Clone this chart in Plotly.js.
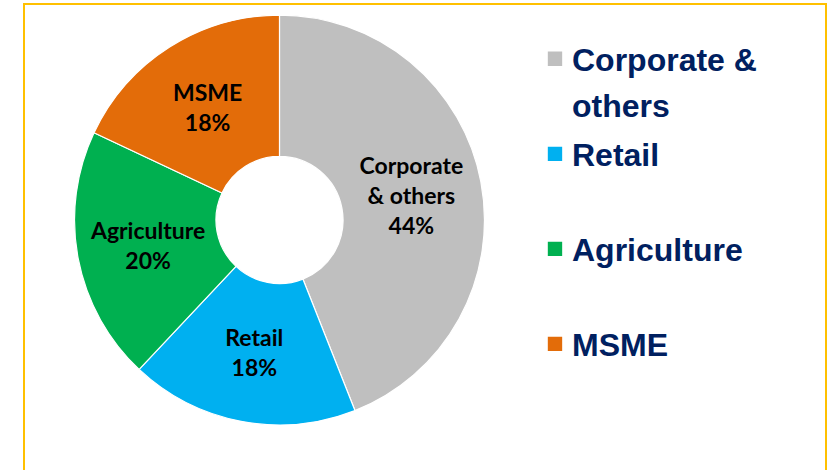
<!DOCTYPE html>
<html>
<head>
<meta charset="utf-8">
<script src="https://cdn.plot.ly/plotly-3.0.1.min.js"></script>
<style>
  html, body { margin: 0; padding: 0; background: #ffffff; }
  #chart { width: 828px; height: 470px; }
</style>
</head>
<body>
<div id="chart"></div>
<script>
// ---- data ----
var categories = ['Corporate & others', 'Retail', 'Agriculture', 'MSME'];
var shares = [44, 18, 20, 18];
var sliceLabels = ['Corporate<br>& others', 'Retail', 'Agriculture', 'MSME'];
var legendLabels = ['Corporate &<br>others', 'Retail', 'Agriculture', 'MSME'];
var sliceColors = ['#BFBFBF', '#00B0F0', '#00B050', '#E36C09'];

// legend entries: each entry takes two lines so the entries are evenly spaced
var legendTextSize = 32;
var legendEntries = legendLabels.map(function (s) {
  var lines = s.split('<br>');
  while (lines.length < 2) lines.push(' ');
  return lines.map(function (l) {
    return '<span style="font-size:' + legendTextSize + 'px">' + l + '</span>';
  }).join('<br>');
});

var trace = {
  type: 'pie',
  labels: legendEntries,
  values: shares,
  text: sliceLabels,
  customdata: categories,
  textinfo: 'text+percent',
  textposition: 'inside',
  insidetextorientation: 'horizontal',
  sort: false,
  direction: 'clockwise',
  rotation: 0,
  hole: 0.31,
  marker: { colors: sliceColors, line: { color: '#ffffff', width: 1.2 } },
  textfont: { family: 'Lato, "Open Sans", sans-serif', size: 23, weight: 700, color: '#000000' },
  hovertemplate: '%{customdata}: %{percent}<extra></extra>',
  domain: { x: [0.09, 0.5851], y: [0.0957, 0.9681] }
};

var yellow = '#FFC000';
var layout = {
  width: 828,
  height: 470,
  margin: { l: 0, r: 0, t: 0, b: 0 },
  paper_bgcolor: '#ffffff',
  plot_bgcolor: '#ffffff',
  showlegend: true,
  legend: {
    x: 0.6425, xanchor: 'left',
    y: 0.942, yanchor: 'top',
    valign: 'top',
    font: { family: '"Liberation Sans", Arial, sans-serif', size: 35.4, weight: 700, color: '#002060' },
    bgcolor: 'rgba(0,0,0,0)',
    borderwidth: 0
  },
  shapes: [
    { type: 'line', xref: 'paper', yref: 'paper', x0: 24 / 828, x1: 24 / 828, y0: 0, y1: 1 - 4 / 470, line: { color: yellow, width: 2 } },
    { type: 'line', xref: 'paper', yref: 'paper', x0: 23 / 828, x1: 827 / 828, y0: 1 - 4 / 470, y1: 1 - 4 / 470, line: { color: yellow, width: 2 } },
    { type: 'line', xref: 'paper', yref: 'paper', x0: 826 / 828, x1: 826 / 828, y0: 0, y1: 1 - 4 / 470, line: { color: yellow, width: 2 } }
  ]
};

var gd = document.getElementById('chart');
Plotly.newPlot(gd, [trace], layout, { displayModeBar: false, staticPlot: true }).then(function () {
  // slightly larger legend swatches, as in the original
  var sw = gd.querySelectorAll('.legend path.legendpie');
  for (var i = 0; i < sw.length; i++) {
    sw[i].setAttribute('transform', 'translate(23,2) scale(1.33)');
  }
});
</script>
</body>
</html>
